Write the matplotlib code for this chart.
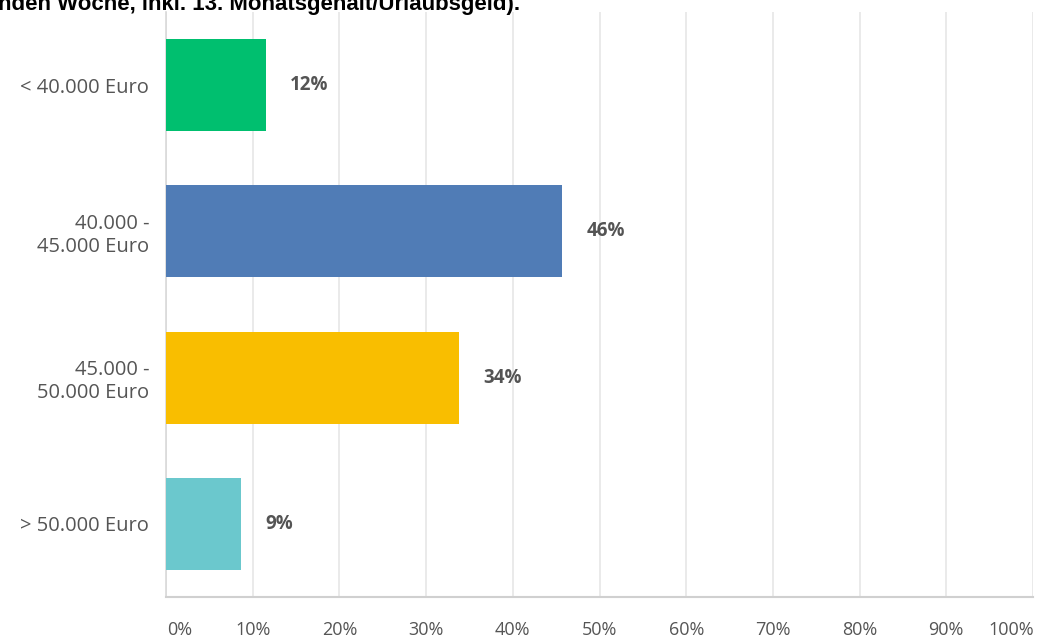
import matplotlib
matplotlib.use("Agg")
import matplotlib.pyplot as plt
from matplotlib.transforms import ScaledTranslation

# Survey answers: yearly gross salary brackets and share of respondents (%)
categories = ["< 40.000 Euro", "40.000 -\n45.000 Euro", "45.000 -\n50.000 Euro", "> 50.000 Euro"]
shares = [11.5, 45.7, 33.8, 8.7]
bar_colors = ["#00BF6F", "#507CB6", "#F9BE00", "#6BC8CD"]
x_ticks = [0, 10, 20, 30, 40, 50, 60, 70, 80, 90, 100]
x_tick_labels = [f"{t}%" for t in x_ticks]
title_text = "nden Woche, inkl. 13. Monatsgehalt/Urlaubsgeld)."

plt.rcParams["font.family"] = ["Open Sans", "DejaVu Sans"]

fig = plt.figure(figsize=(10.39, 6.39), dpi=100)
ax = fig.add_axes([166 / 1039, 42 / 639, (1033 - 166) / 1039, (597 - 12) / 639])

ypos = list(range(len(categories)))
ax.barh(ypos, shares, height=0.63, color=bar_colors, zorder=3)

for y, v in zip(ypos, shares):
    ax.annotate(f"{v:.0f}%", xy=(v, y), xytext=(24, 0), textcoords="offset pixels",
                ha="left", va="center", fontsize=13.5, fontweight="bold", color="#545454")

ax.set_xlim(0, 100)
ax.set_ylim(len(categories) - 0.5, -0.5)
ax.set_yticks(ypos)
ax.set_yticklabels(categories, fontsize=14.5, color="#555555", linespacing=1.2)
ax.set_xticks(x_ticks)
ax.set_xticklabels(x_tick_labels, fontsize=13, color="#555555")
ax.tick_params(axis="both", length=0)
ax.tick_params(axis="y", pad=12)
ax.tick_params(axis="x", pad=17)

# first label starts at the axis, last one is pulled back inside the canvas
xlabels = ax.get_xticklabels()
xlabels[0].set_horizontalalignment("left")
xlabels[0].set_transform(xlabels[0].get_transform() + ScaledTranslation(1 / 100, 0, fig.dpi_scale_trans))
xlabels[-1].set_transform(xlabels[-1].get_transform() + ScaledTranslation(-22 / 100, 0, fig.dpi_scale_trans))

ax.grid(axis="x", color="#E6E6E6", linewidth=1.2, zorder=0)
ax.grid(axis="y", visible=False)
for side in ["top", "right"]:
    ax.spines[side].set_visible(False)
ax.spines["left"].set_color("#D9D9D9")
ax.spines["bottom"].set_color("#D0D0D0")
ax.spines["left"].set_linewidth(1.2)
ax.spines["bottom"].set_linewidth(1.5)

fig.text(-2 / 1039, 1 - 10 / 639, title_text, ha="left", va="baseline",
         fontsize=16, fontweight="bold", color="#000000",
         family=["Liberation Sans", "DejaVu Sans"])

fig.savefig("out.png", dpi=100)
